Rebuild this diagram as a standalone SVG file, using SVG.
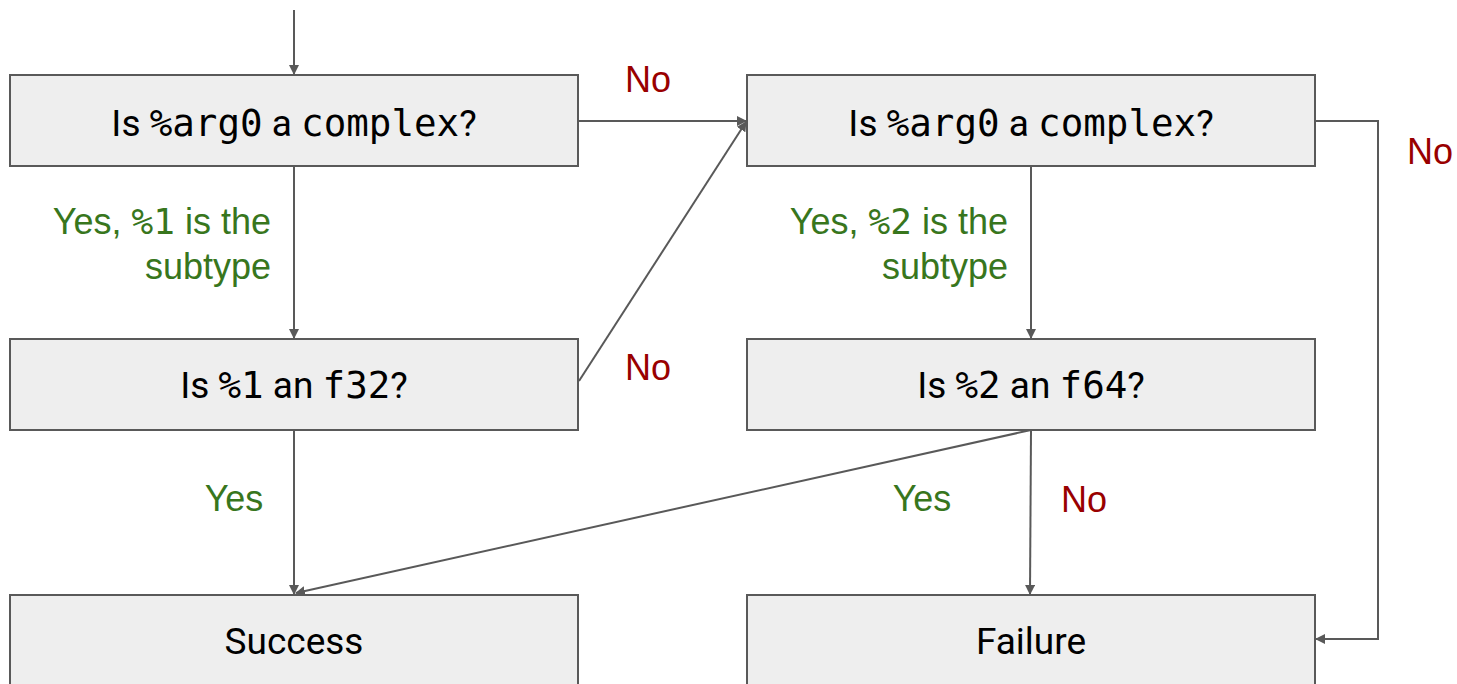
<svg xmlns="http://www.w3.org/2000/svg" width="1457" height="684" viewBox="0 0 1457 684">
<style>
.box{fill:#eeeeee;stroke:#595959;stroke-width:2}
.t{font-family:Roboto,"Liberation Sans",sans-serif;font-size:37px;fill:#000;text-anchor:middle}
.m{font-family:"DejaVu Sans Mono","Liberation Mono",monospace;font-size:37.5px}
.c{fill:none;stroke:#595959;stroke-width:2}
.no{font-family:"Liberation Sans",Arial,sans-serif;font-size:36px;fill:#990000;text-anchor:middle}
.yes{font-family:"Liberation Sans",Arial,sans-serif;font-size:36px;fill:#38761d}
.yes .m{font-size:36px}
</style>
<defs>
<marker id="a" markerWidth="10" markerHeight="10" refX="9" refY="5" orient="auto" markerUnits="userSpaceOnUse">
<path d="M0,0 L10,5 L0,10 z" fill="#595959"/>
</marker>
</defs>
<g id="connectors">
<path class="c" d="M294,10 V74" marker-end="url(#a)"/>
<path class="c" d="M578,121 H746" marker-end="url(#a)"/>
<path class="c" d="M579,381 L746,122" marker-end="url(#a)"/>
<path class="c" d="M294,166 V338" marker-end="url(#a)"/>
<path class="c" d="M1031,166 V338" marker-end="url(#a)"/>
<path class="c" d="M1315,121 H1378 V639 H1316" marker-end="url(#a)"/>
<path class="c" d="M294,430 V594" marker-end="url(#a)"/>
<path class="c" d="M1031,430 L296,593" marker-end="url(#a)"/>
<path class="c" d="M1031,430 L1030,594" marker-end="url(#a)"/>
</g>
<g id="n1"><rect class="box" x="10" y="75" width="568" height="91"/><text class="t" x="294" y="136">Is <tspan class="m">%arg0</tspan> a <tspan class="m">complex</tspan>?</text></g>
<g id="n2"><rect class="box" x="747" y="75" width="568" height="91"/><text class="t" x="1031" y="136">Is <tspan class="m">%arg0</tspan> a <tspan class="m">complex</tspan>?</text></g>
<g id="n3"><rect class="box" x="10" y="339" width="568" height="91"/><text class="t" x="294" y="398">Is <tspan class="m">%1</tspan> an <tspan class="m">f32</tspan>?</text></g>
<g id="n4"><rect class="box" x="747" y="339" width="568" height="91"/><text class="t" x="1031" y="398">Is <tspan class="m">%2</tspan> an <tspan class="m">f64</tspan>?</text></g>
<g id="n5"><rect class="box" x="10" y="595" width="568" height="100"/><text class="t" x="294" y="654">Success</text></g>
<g id="n6"><rect class="box" x="747" y="595" width="568" height="100"/><text class="t" x="1031" y="654">Failure</text></g>
<g id="labels">
<text class="no" x="648" y="92">No</text>
<text class="no" x="648" y="380">No</text>
<text class="no" x="1430" y="164">No</text>
<text class="no" x="1084" y="512">No</text>
<text class="yes" x="234" y="511" text-anchor="middle">Yes</text>
<text class="yes" x="922" y="511" text-anchor="middle">Yes</text>
<text class="yes" x="271" y="234" text-anchor="end">Yes, <tspan class="m">%1</tspan> is the</text>
<text class="yes" x="271" y="279" text-anchor="end">subtype</text>
<text class="yes" x="1008" y="234" text-anchor="end">Yes, <tspan class="m">%2</tspan> is the</text>
<text class="yes" x="1008" y="279" text-anchor="end">subtype</text>
</g>
</svg>
